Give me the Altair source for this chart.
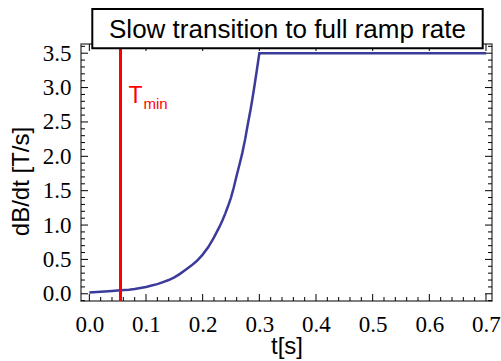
import altair as alt
import pandas as pd

# ---- data ----
t_vals = [0.0, 0.02, 0.04, 0.055, 0.07, 0.08, 0.09, 0.10, 0.11, 0.12, 0.13, 0.14,
          0.15, 0.16, 0.17, 0.18, 0.19, 0.20, 0.21, 0.22, 0.225, 0.23, 0.235,
          0.24, 0.245, 0.25, 0.255, 0.26, 0.265, 0.27, 0.275, 0.28, 0.285,
          0.29, 0.295, 0.30, 0.70]
rate_vals = [0.02, 0.03, 0.04, 0.05, 0.06, 0.07, 0.085, 0.10, 0.12, 0.14, 0.17, 0.20,
             0.24, 0.29, 0.35, 0.41, 0.48, 0.57, 0.68, 0.82, 0.90, 0.98, 1.07,
             1.17, 1.28, 1.40, 1.55, 1.72, 1.88, 2.05, 2.25, 2.48, 2.70,
             2.95, 3.22, 3.50, 3.50]
t_min = [0.055]

x_major = [0.0, 0.1, 0.2, 0.3, 0.4, 0.5, 0.6, 0.7]
x_minor = [0.02, 0.04, 0.06, 0.08, 0.12, 0.14, 0.16, 0.18, 0.22, 0.24, 0.26, 0.28,
           0.32, 0.34, 0.36, 0.38, 0.42, 0.44, 0.46, 0.48, 0.52, 0.54, 0.56, 0.58,
           0.62, 0.64, 0.66, 0.68]
y_major = [0.0, 0.5, 1.0, 1.5, 2.0, 2.5, 3.0, 3.5]
y_minor = [-0.1, 0.1, 0.2, 0.3, 0.4, 0.6, 0.7, 0.8, 0.9, 1.1, 1.2, 1.3, 1.4,
           1.6, 1.7, 1.8, 1.9, 2.1, 2.2, 2.3, 2.4, 2.6, 2.7, 2.8, 2.9,
           3.1, 3.2, 3.3, 3.4, 3.6]

title_text = ["Slow transition to full ramp rate"]
x_title = "t[s]"
y_title = "dB/dt [T/s]"

W, H = 411, 257
xs = alt.Scale(domain=[-0.0147, 0.7106], nice=False, zero=False)
ys = alt.Scale(domain=[-0.105, 3.634], nice=False, zero=False)

curve = pd.DataFrame({"t": t_vals, "v": rate_vals})

SERIF = "Liberation Serif"
SANS = "Liberation Sans"

common = dict(domain=False, ticks=False, grid=False,
              labelFont=SERIF, labelFontSize=23, labelColor="black",
              labelFlush=False, labelOverlap=False,
              titleFont=SANS, titleFontSize=24, titleFontWeight="normal",
              titleColor="black")

x_axis = alt.Axis(values=x_major, format=".1f", labelPadding=12,
                  titleY=52, titleBaseline="alphabetic", **common)
y_axis = alt.Axis(values=y_major, format=".1f", labelPadding=10, titleAngle=-90,
                  titleX=-53, titleY=137, titleBaseline="alphabetic",
                  titleAlign="center", **common)

X = lambda: alt.X("t:Q", scale=xs, axis=x_axis, title=x_title)
Y = lambda: alt.Y("v:Q", scale=ys, axis=y_axis, title=y_title)

line = alt.Chart(curve).mark_line(color="#3b3b9b", strokeWidth=2.5).encode(x=X(), y=Y())

def xticks(vals, length):
    d = pd.DataFrame({"t": vals})
    bottom = alt.Chart(d).mark_rule(color="black", strokeWidth=1).encode(
        x=X(), y=alt.value(H), y2=alt.value(H - length))
    top = alt.Chart(d).mark_rule(color="black", strokeWidth=1).encode(
        x=X(), y=alt.value(0), y2=alt.value(length))
    return [bottom, top]

def yticks(vals, length):
    d = pd.DataFrame({"v": vals})
    left = alt.Chart(d).mark_rule(color="black", strokeWidth=1).encode(
        y=Y(), x=alt.value(0), x2=alt.value(length))
    right = alt.Chart(d).mark_rule(color="black", strokeWidth=1).encode(
        y=Y(), x=alt.value(W), x2=alt.value(W - length))
    return [left, right]

ticks = xticks(x_major, 7) + xticks(x_minor, 4) + yticks(y_major, 7) + yticks(y_minor, 4)

tmin_rule = alt.Chart(pd.DataFrame({"t": t_min})).mark_rule(
    color="#ff0000", strokeWidth=3).encode(x=X())

lab = pd.DataFrame({"a": ["T"], "b": ["min"]})
tmin_T = alt.Chart(lab).mark_text(color="#ff0000", font=SANS, fontSize=23,
                                  align="left", baseline="alphabetic").encode(
    x=alt.value(47.5), y=alt.value(58.7), text="a:N")
tmin_sub = alt.Chart(lab).mark_text(color="#ff0000", font=SANS, fontSize=15,
                                    align="left", baseline="alphabetic").encode(
    x=alt.value(62.5), y=alt.value(65.3), text="b:N")

tdf = pd.DataFrame({"label": title_text})
box = alt.Chart(tdf).mark_rect(fill="white", stroke="black", strokeWidth=2).encode(
    x=alt.value(11.3), x2=alt.value(401.7), y=alt.value(-35), y2=alt.value(4.3))
title = alt.Chart(tdf).mark_text(font=SANS, fontSize=26, color="black",
                                 align="center", baseline="alphabetic").encode(
    x=alt.value(206.5), y=alt.value(-6), text="label:N")

chart = alt.layer(*ticks, line, tmin_rule, tmin_T, tmin_sub, box, title).properties(
    width=W, height=H,
    background="white",
    autosize=alt.AutoSizeParams(type="none"),
    padding={"left": 81, "top": 44, "right": 9, "bottom": 60},
).configure_view(
    stroke="#555555", strokeWidth=1.5
).configure_axis(**common)

chart.save("out.html", embed_options={"renderer": "svg", "actions": False})
